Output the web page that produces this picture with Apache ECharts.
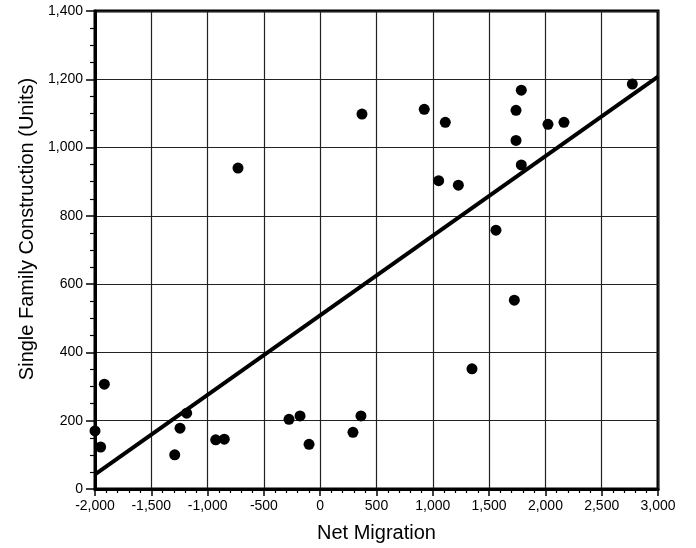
<!DOCTYPE html>
<html>
<head>
<meta charset="utf-8">
<script src="https://cdn.jsdelivr.net/npm/echarts@6/dist/echarts.min.js"></script>
<style>
  html, body { margin: 0; padding: 0; background: #fff; }
  #chart { width: 696px; height: 548px; }
</style>
</head>
<body>
<div id="chart"></div>
<script>
let myChart = echarts.init(document.getElementById('chart'));

// net migration vs single family construction
const migration = [-2000, -1950, -1917, -1292, -1245, -1186, -928, -852, -730, -277, -179, -99,
    291, 362, 371, 924, 1052, 1111, 1227, 1348, 1561, 1724, 1739, 1739, 1786, 1786, 2023, 2165, 2772];
const construction = [170, 123, 307, 100, 178, 222, 144, 146, 940, 204, 214, 131,
    166, 214, 1098, 1112, 903, 1074, 890, 352, 758, 553, 1109, 1021, 1168, 949, 1068, 1074, 1186];

// fitted line ends
const fitX = [-1990, 3000];
const fitY = [45, 1208];

const fontFam = 'Liberation Sans, Arial, sans-serif';

let fmt = function (v) {
    let s = Math.abs(v).toString().replace(/(\d)(?=(\d{3})+$)/g, '$1,');
    return (v < 0 ? '-' : '') + s;
};

let points = migration.map((x, i) => [x, construction[i]]);
let fitLine = fitX.map((x, i) => [x, fitY[i]]);

let option = {
    animation: false,
    grid: {
        left: 95, right: 38, top: 11, bottom: 59,
        show: true,
        borderColor: '#000',
        borderWidth: 3
    },
    xAxis: {
        type: 'value',
        min: -2000, max: 3000, interval: 500,
        name: 'Net Migration',
        nameLocation: 'middle',
        nameGap: 34,
        nameTextStyle: {fontSize: 20, color: '#000', fontFamily: fontFam},
        axisLine: {onZero: false, lineStyle: {color: '#000', width: 3}},
        axisTick: {inside: false, length: 7, lineStyle: {color: '#000', width: 1.5}},
        minorTick: {show: true, splitNumber: 5, length: 4, lineStyle: {color: '#000', width: 1.2}},
        splitLine: {show: true, lineStyle: {color: '#222', width: 1.2}},
        axisLabel: {fontSize: 14, color: '#000', fontFamily: fontFam, margin: 10, formatter: fmt}
    },
    yAxis: {
        type: 'value',
        min: 0, max: 1400, interval: 200,
        name: 'Single Family Construction (Units)',
        nameLocation: 'middle',
        nameRotate: 90,
        nameGap: 56,
        nameTextStyle: {fontSize: 20, color: '#000', fontFamily: fontFam, padding: [0, 0, 0, 42]},
        axisLine: {onZero: false, lineStyle: {color: '#000', width: 3}},
        axisTick: {inside: false, length: 9, lineStyle: {color: '#000', width: 1.5}},
        minorTick: {show: true, splitNumber: 4, length: 5, lineStyle: {color: '#000', width: 1.2}},
        splitLine: {show: true, lineStyle: {color: '#222', width: 1.2}},
        axisLabel: {fontSize: 14, color: '#000', fontFamily: fontFam, margin: 12, formatter: fmt}
    },
    series: [
        {
            type: 'line',
            data: fitLine,
            symbol: 'none',
            lineStyle: {color: '#000', width: 4},
            z: 2
        },
        {
            type: 'scatter',
            data: points,
            symbol: 'circle',
            symbolSize: 11,
            itemStyle: {color: '#000', opacity: 1},
            z: 3
        }
    ]
};

myChart.setOption(option);
</script>
</body>
</html>
